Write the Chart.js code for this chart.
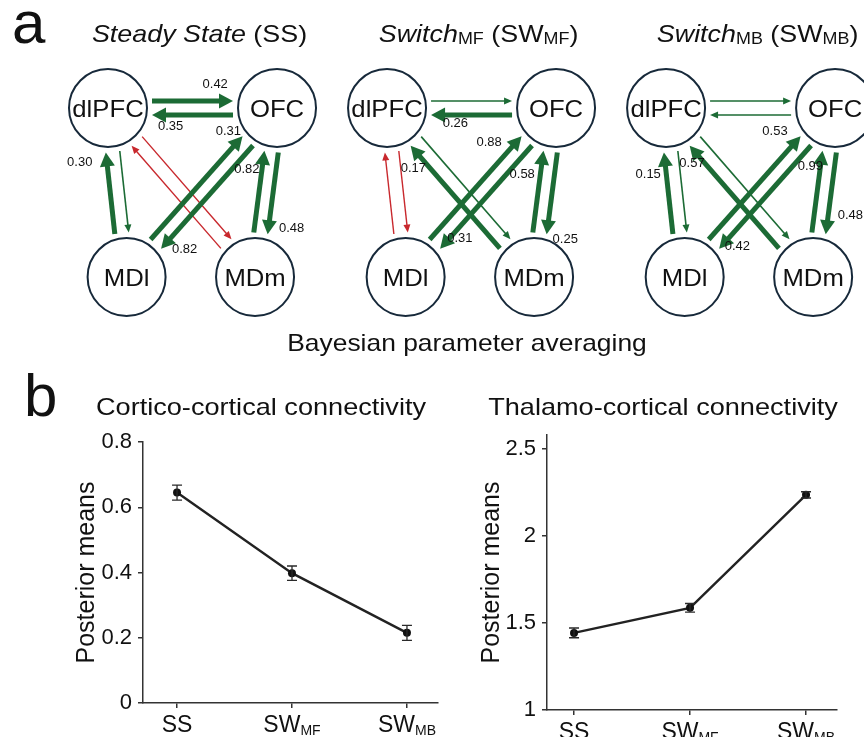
<!DOCTYPE html>
<html>
<head>
<meta charset="utf-8">
<script src="https://cdn.jsdelivr.net/npm/chart.js@4.4.0/dist/chart.umd.min.js"></script>
<style>
  body { margin: 0; background: #fff; }
  #fig { position: relative; width: 864px; height: 737px; overflow: hidden; background: #fff; }
  #fig canvas { position: absolute; }
</style>
</head>
<body>
<div id="fig">
  <canvas id="netChart" width="864" height="360" style="left:0;top:0"></canvas>
  <canvas id="corticoChart" width="450" height="377" style="left:0;top:360px"></canvas>
  <canvas id="thalamoChart" width="414" height="377" style="left:450px;top:360px"></canvas>
</div>
<script>
// ---- data ----
const condNames = ['Steady State', 'Switch', 'Switch'];
const condNameSubs = ['', 'MF', 'MB'];
const condAbbr = ['SS', 'SW', 'SW'];
const condAbbrSubs = ['', 'MF', 'MB'];

// network nodes (layout units) and directed edges
const nodeNames = ['dlPFC', 'OFC', 'MDl', 'MDm'];
const nodeX = [0, 1, 0.11, 0.87];
const nodeY = [1, 1, 0, 0];
const edgeFrom = [0, 1, 0, 2, 0, 3, 1, 2, 1, 3];
const edgeTo   = [1, 0, 2, 0, 3, 0, 2, 1, 3, 1];

const ssLabels = ['0.42', '0.35', null, '0.30', null, null, '0.82', '0.31', '0.48', '0.82'];
const ssSigns  = [1, 1, 1, 1, -1, -1, 1, 1, 1, 1];
const mfLabels = [null, '0.26', null, null, null, '0.17', '0.31', '0.88', '0.25', '0.58'];
const mfSigns  = [1, 1, -1, -1, 1, 1, 1, 1, 1, 1];
const mbLabels = [null, null, null, '0.15', null, '0.57', '0.42', '0.53', '0.48', '0.99'];
const mbSigns  = [1, 1, 1, 1, 1, 1, 1, 1, 1, 1];

// posterior means with error bars
const corticoMeans = [0.645, 0.398, 0.215];
const corticoErr = [0.023, 0.022, 0.023];
const corticoTicks = [0, 0.2, 0.4, 0.6, 0.8];
const thalamoMeans = [1.443, 1.587, 2.236];
const thalamoErr = [0.028, 0.025, 0.018];
const thalamoTicks = [1, 1.5, 2, 2.5];

// ---- layout / style ----
const FONT = '"Liberation Sans", Arial, Helvetica, sans-serif';
const GREEN = '#1c6b35';
const RED = '#c8282d';
const NODE_EDGE = '#17293a';
const SX = 1.12; // text in the figure is a bit wider than plain Arial
const diagramGap = 1.651;
const NODE_R = 39;
const NODE_GAP = 44;
const LANE = 7;
// label placement: [fraction along arrow, px to the left of travel direction]
const ssLabelPos = [[0.78, 17], [0.77, 11], null, [0.92, 27], null, null, [0.89, 18], [0.96, 14], [0.89, 23], [0.75, 15]];
const mfLabelPos = [null, [0.70, 8], null, null, null, [0.86, 13], [0.85, 8], [0.81, 20], [1.03, 19], [0.68, 18]];
const mbLabelPos = [null, null, null, [0.76, 18], null, [0.89, 10], [0.90, 12], [0.90, 22], [0.73, 22], [0.79, 10]];

const diagrams = [
  {labels: ssLabels, signs: ssSigns, pos: ssLabelPos},
  {labels: mfLabels, signs: mfSigns, pos: mfLabelPos},
  {labels: mbLabels, signs: mbSigns, pos: mbLabelPos}
];

// centred run of differently styled pieces, optionally stretched sideways
function drawRich(ctx, parts, cx, baseline, sx) {
  sx = sx || 1;
  let total = 0;
  parts.forEach(p => { ctx.font = p.font; p.w = ctx.measureText(p.text).width; total += p.w; });
  ctx.save();
  ctx.translate(cx, baseline);
  ctx.scale(sx, 1);
  let x = -total / 2;
  ctx.textAlign = 'left';
  ctx.textBaseline = 'alphabetic';
  parts.forEach(p => {
    ctx.font = p.font;
    ctx.fillText(p.text, x, p.dy || 0);
    x += p.w;
  });
  ctx.restore();
}

function drawArrow(ctx, s, t, width, color, headLen, headHalf) {
  const dx = t.x - s.x, dy = t.y - s.y, len = Math.hypot(dx, dy);
  const ux = dx / len, uy = dy / len;
  const bx = t.x - ux * headLen, by = t.y - uy * headLen;
  ctx.strokeStyle = color;
  ctx.lineWidth = width;
  ctx.lineCap = 'butt';
  ctx.beginPath();
  ctx.moveTo(s.x, s.y);
  ctx.lineTo(bx + ux, by + uy);
  ctx.stroke();
  ctx.fillStyle = color;
  ctx.beginPath();
  ctx.moveTo(t.x, t.y);
  ctx.lineTo(bx - uy * headHalf, by + ux * headHalf);
  ctx.lineTo(bx + uy * headHalf, by - ux * headHalf);
  ctx.closePath();
  ctx.fill();
}

function edgeGeom(A, B) {
  const dx = B.x - A.x, dy = B.y - A.y, len = Math.hypot(dx, dy);
  const ux = dx / len, uy = dy / len, nx = uy, ny = -ux;
  return {
    s: {x: A.x + ux * NODE_GAP + nx * LANE, y: A.y + uy * NODE_GAP + ny * LANE},
    t: {x: B.x - ux * NODE_GAP + nx * LANE, y: B.y - uy * NODE_GAP + ny * LANE},
    ux, uy, nx, ny, len: len - 2 * NODE_GAP
  };
}

const networkPlugin = {
  id: 'network',
  beforeDatasetsDraw(chart) {
    const ctx = chart.ctx;
    ctx.save();
    diagrams.forEach((d, k) => {
      const pts = chart.getDatasetMeta(k).data;
      edgeFrom.forEach((f, e) => {
        const g = edgeGeom(pts[f], pts[edgeTo[e]]);
        const color = d.signs[e] > 0 ? GREEN : RED;
        if (d.labels[e]) drawArrow(ctx, g.s, g.t, 5, color, 14, 7.5);
        else drawArrow(ctx, g.s, g.t, d.signs[e] > 0 ? 1.6 : 1.4, color, 8, 3.5);
      });
    });
    ctx.restore();
  },
  afterDatasetsDraw(chart) {
    const ctx = chart.ctx;
    ctx.save();
    ctx.fillStyle = '#111';
    diagrams.forEach((d, k) => {
      const pts = chart.getDatasetMeta(k).data;
      // node names
      nodeNames.forEach((n, i) => {
        drawRich(ctx, [{text: n, font: '24px ' + FONT}], pts[i].x, pts[i].y + 9, 1.07);
      });
      // edge values
      ctx.font = '13px ' + FONT;
      ctx.textAlign = 'center';
      ctx.textBaseline = 'middle';
      edgeFrom.forEach((f, e) => {
        if (!d.labels[e]) return;
        const g = edgeGeom(pts[f], pts[edgeTo[e]]);
        const [tt, off] = d.pos[e];
        const x = g.s.x + g.ux * g.len * tt + g.nx * off;
        const y = g.s.y + g.uy * g.len * tt + g.ny * off;
        ctx.fillText(d.labels[e], x, y);
      });
      // diagram title
      const cx = (pts[0].x + pts[1].x) / 2 + 7;
      const base = pts[0].y - 66;
      drawRich(ctx, [
        {text: condNames[k], font: 'italic 24px ' + FONT},
        {text: condNameSubs[k], font: '16px ' + FONT, dy: 2},
        {text: ' (' + condAbbr[k], font: '24px ' + FONT},
        {text: condAbbrSubs[k], font: '16px ' + FONT, dy: 2},
        {text: ')', font: '24px ' + FONT}
      ], cx, base, SX);
    });
    ctx.font = '60px ' + FONT;
    ctx.textAlign = 'left';
    ctx.textBaseline = 'alphabetic';
    ctx.fillText('a', 12, 43);
    drawRich(ctx, [{text: 'Bayesian parameter averaging', font: '24px ' + FONT}], 467, 351, 1.1);
    ctx.restore();
  }
};

new Chart(document.getElementById('netChart'), {
  type: 'scatter',
  data: {
    datasets: diagrams.map((d, k) => ({
      data: nodeNames.map((n, i) => ({x: nodeX[i] + k * diagramGap, y: nodeY[i]})),
      pointRadius: NODE_R,
      pointHoverRadius: NODE_R,
      pointBackgroundColor: '#fff',
      pointBorderColor: NODE_EDGE,
      pointBorderWidth: 2,
      clip: false
    }))
  },
  options: {
    responsive: false,
    animation: false,
    events: [],
    layout: {padding: 0, autoPadding: false},
    plugins: {legend: {display: false}, tooltip: {enabled: false}},
    scales: {
      x: {type: 'linear', display: false, min: -0.639, max: 4.473},
      y: {type: 'linear', display: false, min: -0.491, max: 1.639}
    }
  },
  plugins: [networkPlugin]
});

// ---- line charts ----
const errorBarPlugin = {
  id: 'errorBars',
  afterDatasetsDraw(chart, args, opts) {
    const ctx = chart.ctx, xs = chart.scales.x, ys = chart.scales.y;
    ctx.save();
    ctx.strokeStyle = '#2a2a2a';
    ctx.lineWidth = 1.3;
    opts.means.forEach((m, i) => {
      const x = xs.getPixelForValue(i);
      const y1 = ys.getPixelForValue(m - opts.errs[i]);
      const y2 = ys.getPixelForValue(m + opts.errs[i]);
      ctx.beginPath();
      ctx.moveTo(x, y1); ctx.lineTo(x, y2);
      ctx.moveTo(x - 5, y1); ctx.lineTo(x + 5, y1);
      ctx.moveTo(x - 5, y2); ctx.lineTo(x + 5, y2);
      ctx.stroke();
    });
    ctx.restore();
  }
};

const decorPlugin = {
  id: 'decor',
  afterDraw(chart, args, opts) {
    const ctx = chart.ctx, xs = chart.scales.x;
    ctx.save();
    ctx.fillStyle = '#111';
    condAbbr.forEach((c, i) => {
      drawRich(ctx, [
        {text: c, font: '23px ' + FONT},
        {text: condAbbrSubs[i], font: '14px ' + FONT, dy: 3}
      ], xs.getPixelForValue(i), xs.top + 29);
    });
    drawRich(ctx, [{text: opts.title, font: '24px ' + FONT}], opts.titleX, 55, 1.13);
    if (opts.letter) {
      ctx.font = '60px ' + FONT;
      ctx.textAlign = 'left';
      ctx.textBaseline = 'alphabetic';
      ctx.fillText(opts.letter, 24, 56);
    }
    ctx.restore();
  }
};

function makeChart(id, means, errs, yTicks, cfg) {
  return new Chart(document.getElementById(id), {
    type: 'line',
    data: {
      datasets: [{
        data: means.map((m, i) => ({x: i, y: m})),
        borderColor: '#222',
        borderWidth: 2.4,
        pointRadius: 4,
        pointBackgroundColor: '#111',
        pointBorderWidth: 0,
        tension: 0,
        clip: false
      }]
    },
    options: {
      responsive: false,
      animation: false,
      events: [],
      layout: {padding: {left: 0, top: cfg.top, right: cfg.right, bottom: 0}, autoPadding: false},
      plugins: {
        legend: {display: false},
        tooltip: {enabled: false},
        errorBars: {means: means, errs: errs},
        decor: {title: cfg.title, titleX: cfg.titleX, letter: cfg.letter}
      },
      scales: {
        x: {
          type: 'linear',
          min: cfg.xMin,
          max: cfg.xMax,
          afterBuildTicks: s => { s.ticks = means.map((m, i) => ({value: i})); },
          afterFit: s => { s.height = cfg.xHeight; },
          ticks: {display: false},
          grid: {drawOnChartArea: false, drawTicks: true, tickLength: 5, color: '#333', lineWidth: 1.5},
          border: {display: true, color: '#333', width: 1.5}
        },
        y: {
          min: yTicks[0],
          max: cfg.yMax,
          afterBuildTicks: s => { s.ticks = yTicks.map(v => ({value: v})); },
          afterFit: s => { s.width = cfg.yWidth; },
          ticks: {
            color: '#111',
            padding: 6,
            font: {family: FONT, size: 22},
            callback: v => String(+v.toFixed(2))
          },
          grid: {drawOnChartArea: false, drawTicks: true, tickLength: 5, color: '#333', lineWidth: 1.5},
          border: {display: true, color: '#333', width: 1.5},
          title: {
            display: true,
            text: 'Posterior means',
            color: '#111',
            font: {family: FONT, size: 25},
            padding: {top: cfg.titlePad, bottom: 0}
          }
        }
      }
    },
    plugins: [errorBarPlugin, decorPlugin]
  });
}

makeChart('corticoChart', corticoMeans, corticoErr, corticoTicks, {
  top: 82, right: 12, xHeight: 34, yWidth: 143, yMax: 0.8,
  xMin: -0.296, xMax: 2.27, titlePad: 72,
  title: 'Cortico-cortical connectivity', titleX: 261, letter: 'b'
});
makeChart('thalamoChart', thalamoMeans, thalamoErr, thalamoTicks, {
  top: 75, right: 27, xHeight: 27, yWidth: 97, yMax: 2.58,
  xMin: -0.233, xMax: 2.267, titlePad: 27,
  title: 'Thalamo-cortical connectivity', titleX: 213, letter: null
});
</script>
</body>
</html>
